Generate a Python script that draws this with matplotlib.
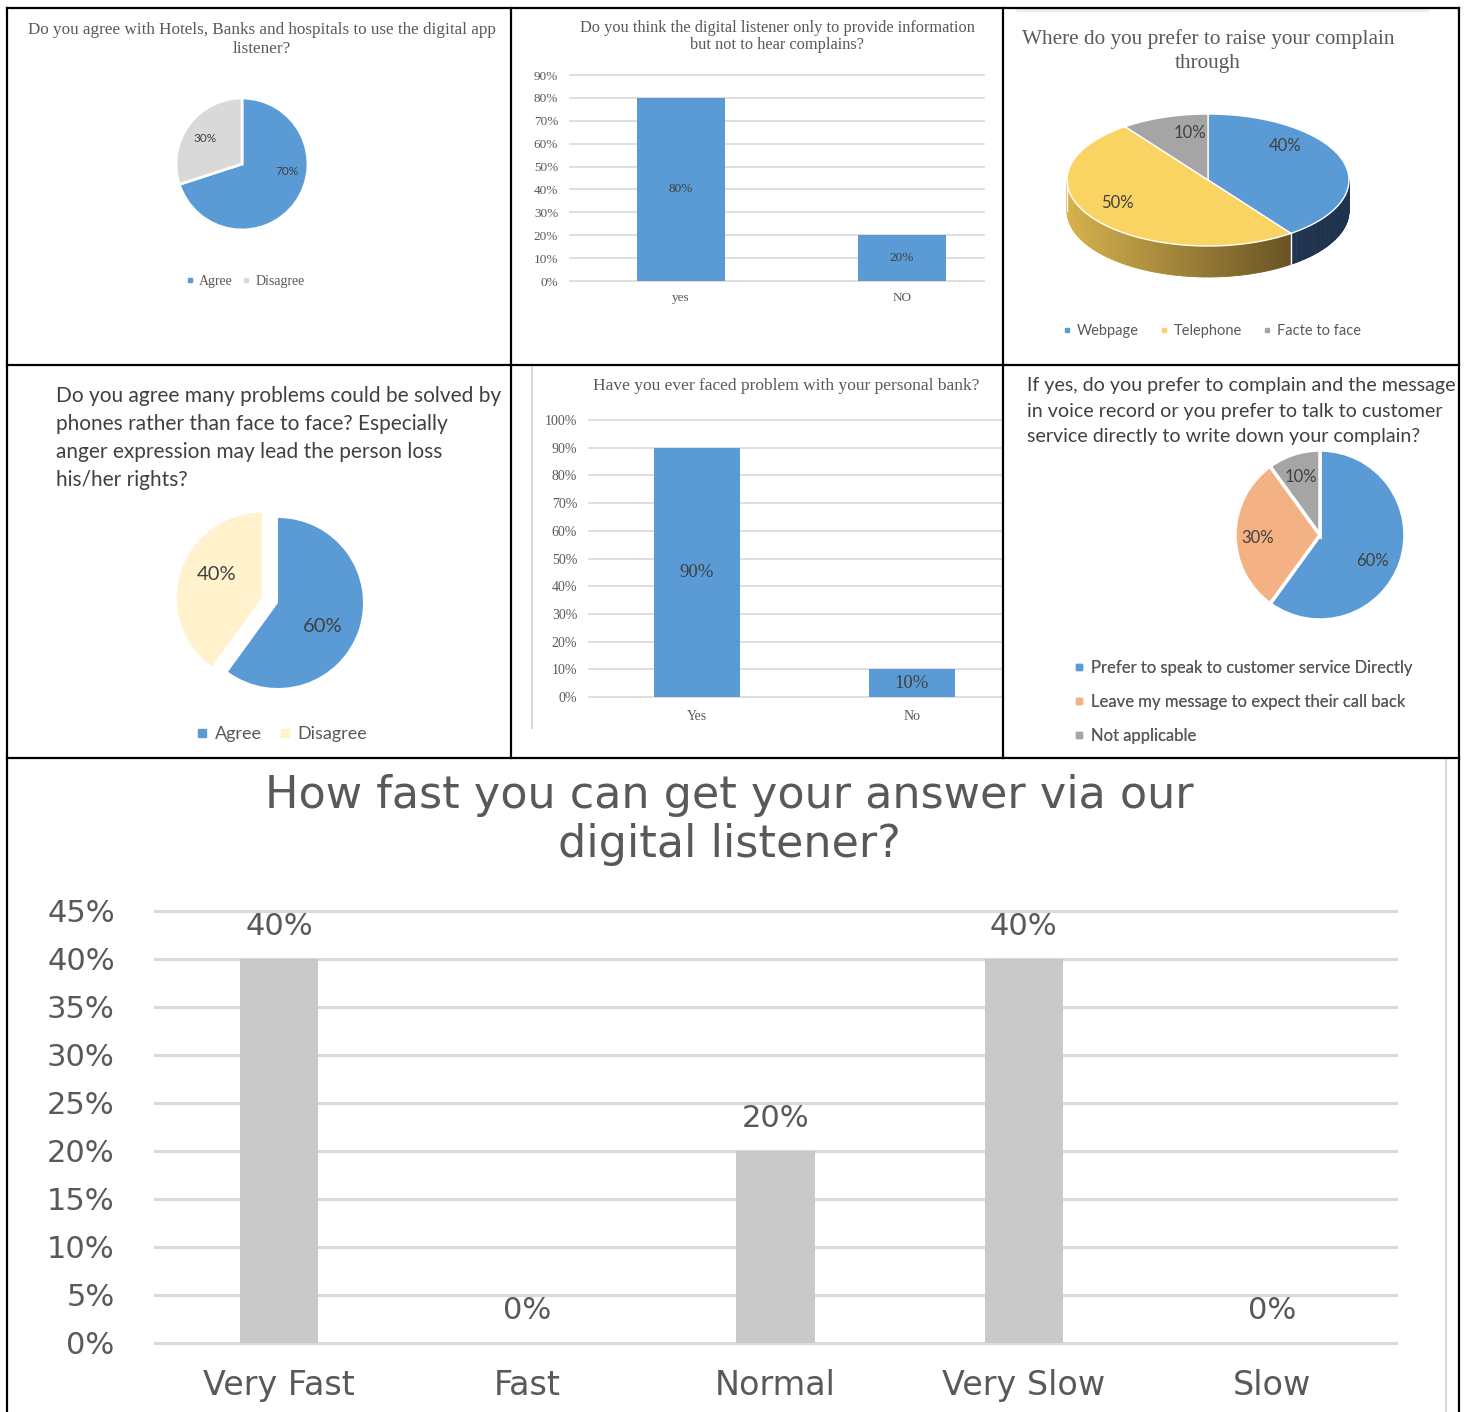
import numpy as np
import matplotlib.pyplot as plt
from matplotlib.patches import Polygon
from matplotlib.lines import Line2D

# ---- data ----
p1_title = "Do you agree with Hotels, Banks and hospitals to use the digital app\nlistener?"
p1_labels = ["Agree", "Disagree"]
p1_values = [70, 30]

p2_title = "Do you think the digital listener only to provide information\nbut not to hear complains?"
p2_cats = ["yes", "NO"]
p2_values = [80, 20]

p3_title = "Where do you prefer to raise your complain\nthrough"
p3_labels = ["Webpage", "Telephone", "Facte to face"]
p3_values = [40, 50, 10]

p4_title = ("Do you agree many problems could be solved by\nphones rather than face to face? Especially\n"
            "anger expression may lead the person loss\nhis/her rights?")
p4_labels = ["Agree", "Disagree"]
p4_values = [60, 40]

p5_title = "Have you ever faced problem with your personal bank?"
p5_cats = ["Yes", "No"]
p5_values = [90, 10]

p6_title = ("If yes, do you prefer to complain and the message\nin voice record or you prefer to talk to customer\n"
            "service directly to write down your complain?")
p6_labels = ["Prefer to speak to customer service Directly",
             "Leave my message to expect their call back",
             "Not applicable"]
p6_values = [60, 30, 10]

p7_title = "How fast you can get your answer via our\ndigital listener?"
p7_cats = ["Very Fast", "Fast", "Normal", "Very Slow", "Slow"]
p7_values = [40, 0, 20, 40, 0]

# ---- style ----
W, H = 1466, 1412
SERIF = "Liberation Serif"
SANS = "Lato"
WIDE = "DejaVu Sans"
GREY = "#595959"
DARK = "#404040"
BLUE = "#5B9BD5"
GRID = "#D9D9D9"

fig = plt.figure(figsize=(W / 100, H / 100), dpi=100)
fig.patch.set_facecolor("white")


def fy(y):
    return H - y


def px_axes(x0, y0, x1, y1):
    return fig.add_axes([x0 / W, (H - y1) / H, (x1 - x0) / W, (y1 - y0) / H])


canvas = fig.add_axes([0, 0, 1, 1])


def pie_labels(values, cx, cy, r, offsets, **kw):
    for v, (dx, dy) in zip(values, offsets):
        canvas.text(cx + dx * r, fy(cy) + dy * r, f"{v}%", ha="center", va="center", **kw)


def make_legend(colors, labels, x, y, ncol, ms, fontsize, family, labelspacing=0.5,
                columnspacing=1.2, loc="center"):
    handles = [Line2D([], [], marker="s", linestyle="", color=c, markersize=ms) for c in colors]
    leg = canvas.legend(handles, labels, loc=loc, bbox_to_anchor=(x / W, y / H),
                        bbox_transform=fig.transFigure, ncol=ncol, frameon=False,
                        handlelength=0.6, handletextpad=0.4, columnspacing=columnspacing,
                        labelspacing=labelspacing,
                        prop={"family": family, "size": fontsize})
    for t in leg.get_texts():
        t.set_color(GREY)
    canvas.add_artist(leg)


# ---- panel 1: pie ----
fig.text(262 / W, fy(39.5) / H, p1_title, ha="center", va="center", family=SERIF,
         fontsize=12.3, color=GREY, linespacing=1.32)
canvas.pie(p1_values, radius=66, center=(242, fy(164)), startangle=90, counterclock=False,
           colors=[BLUE, "#D9D9D9"], wedgeprops=dict(edgecolor="white", linewidth=2))
pie_labels(p1_values, 242, 164, 66, [(0.68, -0.12), (-0.56, 0.38)],
           family=SANS, fontsize=8.5, color=DARK)
make_legend([BLUE, "#D9D9D9"], p1_labels, 245, fy(281), 2, 3, 10, SERIF, columnspacing=0.6)

# ---- panel 2: bars ----
ax2 = px_axes(570, 75, 984, 281)
b2 = ax2.bar(range(len(p2_cats)), p2_values, width=0.4, color=BLUE, zorder=2)
ax2.set_ylim(0, 90)
ax2.set_xlim(-0.502, 1.371)
ax2.set_yticks(range(0, 91, 10), [f"{v}%" for v in range(0, 91, 10)])
ax2.set_xticks(range(len(p2_cats)), p2_cats)
ax2.bar_label(b2, labels=[f"{v}%" for v in p2_values], label_type="center",
              family=SERIF, fontsize=9.5, color=DARK)
fig.text(777 / W, fy(36.5) / H, p2_title, ha="center", va="center", family=SERIF,
         fontsize=11.8, color=GREY, linespacing=1.15)

# ---- panel 3: 3D pie ----
fig.text(1208 / W, fy(51) / H, p3_title, ha="center", va="center", family=SERIF,
         fontsize=15.3, color=GREY, linespacing=1.32)
cx3, cy3, rx3, ry3, depth3 = 1208, fy(180), 141, 66, 31
top_cols = [BLUE, "#F9D462", "#A5A5A5"]
fracs = np.array(p3_values) / sum(p3_values)
edges = 90 - 360 * np.concatenate([[0], np.cumsum(fracs)])


def ell(t, dz=0.0):
    t = np.radians(t)
    return np.column_stack([cx3 + rx3 * np.cos(t), cy3 + ry3 * np.sin(t) - dz])


# side walls (front half only)
for i in range(len(p3_values)):
    a0, a1 = edges[i + 1], edges[i]
    lo, hi = max(a0, -180), min(a1, 0)
    if lo >= hi:
        lo, hi = max(a0 + 360, -180), min(a1 + 360, 0)
        if lo >= hi:
            continue
    nseg = 60
    ts = np.linspace(lo, hi, nseg + 1)
    for k in range(nseg):
        seg = np.linspace(ts[k], ts[k + 1], 4)
        pts = np.vstack([ell(seg), ell(seg[::-1], depth3)])
        xm = np.mean(pts[:, 0])
        s = np.clip((xm - (cx3 - rx3)) / (2 * rx3 * 0.85), 0, 1)
        if i == 1:
            col = (1 - s) * np.array([0.84, 0.70, 0.30]) + s * np.array([0.38, 0.30, 0.13])
        else:
            col = (1 - s) * np.array([0.16, 0.27, 0.40]) + s * np.array([0.12, 0.20, 0.31])
        canvas.add_patch(Polygon(pts, closed=True, facecolor=col, edgecolor=col, lw=0.6))
    canvas.plot(*ell(np.array([lo, lo]), np.array([0, depth3])).T, color="white", lw=1)
for i in range(len(p3_values)):
    a0, a1 = edges[i + 1], edges[i]
    ts = np.linspace(a0, a1, 80)
    pts = np.vstack([[cx3, cy3], ell(ts)])
    canvas.add_patch(Polygon(pts, closed=True, facecolor=top_cols[i], edgecolor="white", lw=1))
for v, (dx, dy) in zip(p3_values, [(0.55, 0.52), (-0.64, -0.35), (-0.13, 0.71)]):
    canvas.text(cx3 + dx * rx3, cy3 + dy * ry3, f"{v}%", ha="center", va="center",
                family=SANS, fontsize=12, color=DARK)
make_legend(top_cols, p3_labels, 1212, fy(331), 3, 3.5, 10.5, SANS, columnspacing=1.4)
canvas.plot([1017, 1427], [fy(10), fy(10)], color="#EDEDED", lw=2)

# ---- panel 4: exploded pie ----
fig.text(56 / W, fy(386) / H, p4_title, ha="left", va="top", family=SANS,
         fontsize=15, color=DARK, linespacing=1.5)
canvas.pie(p4_values, radius=85, center=(278, fy(603)), startangle=90, counterclock=False,
           colors=[BLUE, "#FFF2CC"], explode=[0, 0.2 * 85])
pie_labels(p4_values, 278, 603, 85, [(0.53, -0.28), (-0.72, 0.33)],
           family=SANS, fontsize=14.5, color=DARK)
make_legend([BLUE, "#FFF2CC"], p4_labels, 282, fy(734), 2, 6, 13, SANS, columnspacing=1.0)

# ---- panel 5: bars ----
canvas.plot([532, 532], [fy(365), fy(728)], color="#D9D9D9", lw=1.5)
ax5 = px_axes(589, 420, 1003, 697)
b5 = ax5.bar(range(len(p5_cats)), p5_values, width=0.4, color=BLUE, zorder=2)
ax5.set_ylim(0, 100)
ax5.set_xlim(-0.502, 1.423)
ax5.set_yticks(range(0, 101, 10), [f"{v}%" for v in range(0, 101, 10)])
ax5.set_xticks(range(len(p5_cats)), p5_cats)
ax5.bar_label(b5, labels=[f"{v}%" for v in p5_values], label_type="center",
              family=SERIF, fontsize=13.5, color=DARK)
fig.text(786 / W, fy(386) / H, p5_title, ha="center", va="center", family=SERIF,
         fontsize=12.5, color=GREY)

# ---- panel 6: pie ----
fig.text(1027 / W, fy(377) / H, p6_title, ha="left", va="top", family=SANS,
         fontsize=14.1, color=DARK, linespacing=1.62)
canvas.pie(p6_values, radius=85, center=(1320, fy(535)), startangle=90, counterclock=False,
           colors=[BLUE, "#F4B183", "#A5A5A5"], wedgeprops=dict(edgecolor="white", linewidth=2.5))
pie_labels(p6_values, 1320, 535, 85, [(0.62, -0.31), (-0.74, -0.04), (-0.22, 0.68)],
           family=SANS, fontsize=12, color=DARK)
make_legend([BLUE, "#F4B183", "#A5A5A5"], p6_labels, 1059, fy(702), 1, 4.5, 12, SANS,
            labelspacing=1.08, loc="center left")

# ---- panel 7: big bar chart ----
ax7 = px_axes(155, 911, 1396, 1343)
b7 = ax7.bar(range(len(p7_cats)), p7_values, width=0.315, color="#C9C9C9", zorder=2)
ax7.set_ylim(0, 45)
ax7.set_xlim(-0.5, 4.5)
ax7.set_yticks(range(0, 46, 5), [f"{v}%" for v in range(0, 46, 5)])
ax7.set_xticks(range(len(p7_cats)), p7_cats)
ax7.bar_label(b7, labels=[f"{v}%" for v in p7_values], padding=13,
              family=WIDE, fontsize=22, color=GREY)
fig.text(729 / W, fy(820) / H, p7_title, ha="center", va="center", family=WIDE,
         fontsize=32, color=GREY, linespacing=1.2)
canvas.plot([1446, 1446], [fy(758), 0], color="#D9D9D9", lw=1.5)

# shared bar-axis styling
for ax, fam, fs, tpad, xpad, gw in [(ax2, SERIF, 9.5, 8.5, 8, 1.2),
                                    (ax5, SERIF, 10, 8.5, 9, 1.2),
                                    (ax7, WIDE, 22, 29, 19, 2.2)]:
    ax.set_facecolor("none")
    for s in ax.spines.values():
        s.set_visible(False)
    ax.grid(axis="y", color=GRID, lw=gw, zorder=0)
    ax.set_axisbelow(True)
    for gl in ax.get_ygridlines():
        gl.set_clip_on(False)
    ax.tick_params(axis="both", length=0, labelcolor=GREY, labelsize=fs)
    ax.tick_params(axis="y", pad=tpad)
    ax.tick_params(axis="x", pad=xpad)
    for lab in ax.get_xticklabels() + ax.get_yticklabels():
        lab.set_family(fam)
for lab in ax7.get_xticklabels():
    lab.set_fontsize(24)

# ---- canvas limits ----
canvas.set_xlim(0, W)
canvas.set_ylim(0, H)
canvas.set_aspect("auto")
canvas.axis("off")

# ---- table borders ----
border = [((7, 8), (1459, 8)), ((7, 365), (1459, 365)), ((7, 758), (1459, 758)),
          ((7, 8), (7, H)), ((1459, 8), (1459, H)),
          ((511, 8), (511, 758)), ((1003, 8), (1003, 758))]
for (xa, ya), (xb, yb) in border:
    fig.add_artist(Line2D([xa / W, xb / W], [fy(ya) / H, fy(yb) / H], color="black",
                          lw=1.6, transform=fig.transFigure))

fig.savefig("out.png", dpi=100)
